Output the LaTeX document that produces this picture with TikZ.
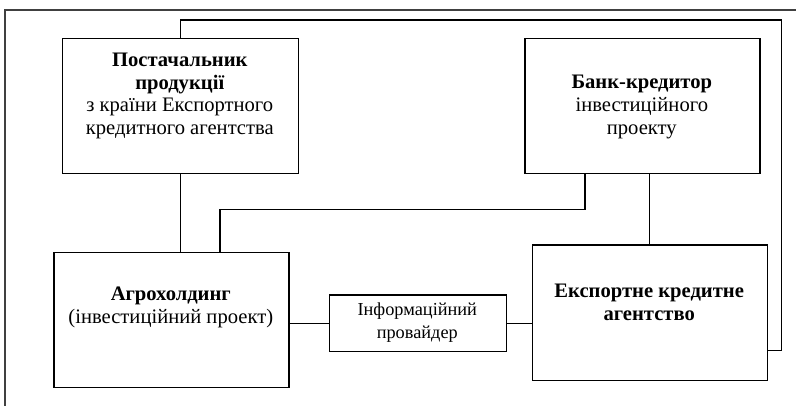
\documentclass[tikz,border=0pt]{standalone}
\usepackage{fontspec}
\setmainfont{Liberation Serif}
\begin{document}
\begin{tikzpicture}[x=1pt,y=-1pt,
  box/.style={draw, line width=1.2pt, inner sep=0pt, anchor=north west},
  lbl/.style={align=center, inner sep=0pt, font=\fontsize{20.6}{22.7}\selectfont},
  small/.style={align=center, inner sep=0pt, font=\fontsize{18.3}{23}\selectfont},
  link/.style={line width=1.2pt}]
\useasboundingbox (0,0) rectangle (796,405);
% outer frame (partly visible)
\draw[line width=1.1pt, black!75] (5,420) |- (810,10);
% boxes
\node[box, minimum width=235.5pt, minimum height=135pt] (sup) at (62,38) {};
\node[box, minimum width=235pt, minimum height=135pt] (bank) at (524.3,38) {};
\node[box, minimum width=235pt, minimum height=135pt] (agro) at (53.3,251.7) {};
\node[box, minimum width=177.3pt, minimum height=56.7pt] (info) at (328.7,294.3) {};
\node[box, minimum width=235pt, minimum height=135.7pt] (eca) at (531.7,244.3) {};
% texts
\node[lbl] (supT) at (179.8,96) {\textbf{Постачальник}\\\textbf{продукції}\\з країни Експортного\\кредитного агентства};
\node[lbl] (bankT) at (641.8,107) {\textbf{Банк-кредитор}\\інвестиційного\\проекту};
\node[lbl] (agroT) at (170.8,307.5) {\textbf{Агрохолдинг}\\(інвестиційний проект)};
\node[lbl] (ecaT) at (649.2,302.5) {\textbf{Експортне кредитне}\\\textbf{агентство}};
\node[small] (infoT) at (417.3,322.7) {Інформаційний\\провайдер};
% connector coordinates
\coordinate (tr) at (781.7,20);
\coordinate (ecaR) at (766.7,350.7);
\coordinate (b1) at (585,173);
\coordinate (a1) at (220,251.7);
\coordinate (mid) at (0,209.3);
% connectors
\draw[link] (sup.south) -- (sup.south |- agro.north);
\draw[link] (sup.north) |- (tr) |- (ecaR);
\draw[link] (b1) -- (b1 |- mid) -| (a1);
\draw[link] (eca.north |- bank.south) -- (eca.north);
\draw[link] (info.west -| agro.east) -- (info.west);
\draw[link] (info.east) -- (info.east -| eca.west);
\end{tikzpicture}
\end{document}
